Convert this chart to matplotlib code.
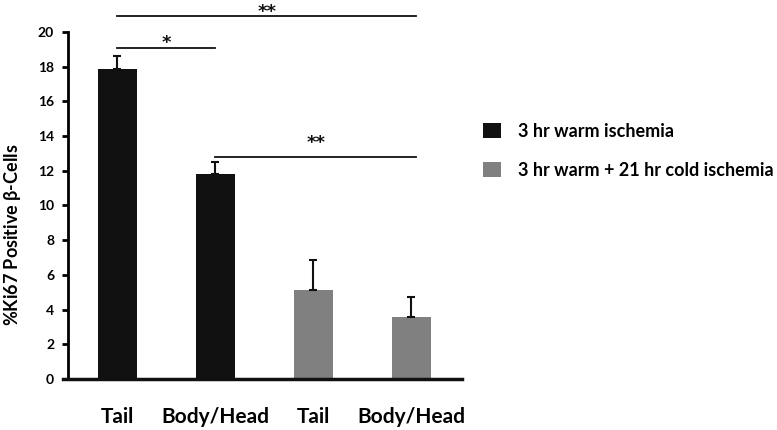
import numpy as np
import matplotlib
matplotlib.use('Agg')
import matplotlib.pyplot as plt
from matplotlib.patches import Patch

# values
labels = ["Tail", "Body/Head", "Tail", "Body/Head"]
means = [17.85, 11.82, 5.13, 3.56]
err_up = [0.75, 0.71, 1.73, 1.19]
groups = ["3 hr warm ischemia", "3 hr warm + 21 hr cold ischemia"]
group_of_bar = [0, 0, 1, 1]
colors = ["#111111", "#808080"]

# significance bars: (x1, x2, y, text, baseline offset in points)
sig = [(0, 3.05, 20.94, "**", -1.1), (0, 1.0, 19.1, "*", 0.0), (1.0, 3.05, 12.81, "**", 6.1)]

plt.rcParams['font.family'] = ['Lato', 'DejaVu Sans']

fig = plt.figure(figsize=(7.77, 4.30), dpi=100)
ax = fig.add_axes([0.0875, 0.1186, 0.5070, 0.8070])

x = np.arange(len(means))
bar_colors = [colors[g] for g in group_of_bar]
ax.bar(x, means, width=0.39, color=bar_colors, zorder=2)
ax.errorbar(x, means, yerr=[np.zeros(len(means)), err_up], fmt='none',
            ecolor='#111111', elinewidth=1.5, capsize=3, capthick=1.5, zorder=3)

ax.set_xlim(-0.505, 3.515)
ax.set_ylim(0, 20)
ax.set_yticks(np.arange(0, 21, 2))
ax.set_xticks(x)
ax.set_xticklabels(labels, fontsize=15, fontweight='bold')
ax.tick_params(axis='x', length=0, pad=20)
ax.tick_params(axis='y', direction='out', length=4, width=2, labelsize=10, pad=6)
for t in ax.get_yticklabels():
    t.set_fontweight('bold')

ax.spines['top'].set_visible(False)
ax.spines['right'].set_visible(False)
ax.spines['left'].set_linewidth(2)
ax.spines['bottom'].set_visible(False)
ax.plot([-0.556, 3.515], [0, 0], color='#111111', lw=2.5, clip_on=False, zorder=4)

ax.set_ylabel("%Ki67 Positive $\\mathregular{\\beta}$-Cells", fontsize=13,
              fontweight='bold')
ax.yaxis.set_label_coords(-0.115, 0.415)

for x1, x2, y, txt, off in sig:
    ax.plot([x1, x2], [y, y], color='#111111', lw=1.3, clip_on=False)
    ax.annotate(txt, xy=((x1 + x2) / 2, y), xytext=(0, off),
                textcoords='offset points', ha='center', va='baseline',
                fontsize=13, fontweight='bold', family='DejaVu Sans',
                color='#111111', annotation_clip=False)

handles = [Patch(facecolor=c, edgecolor='none') for c in colors]
fig.legend(handles, groups, loc='upper left', bbox_to_anchor=(0.601, 0.752),
           frameon=False, handlelength=1.0, handleheight=0.9, handletextpad=0.9,
           labelspacing=1.2, prop={'family': 'Lato', 'weight': 'bold', 'size': 13})

fig.savefig("out.png", dpi=100)
